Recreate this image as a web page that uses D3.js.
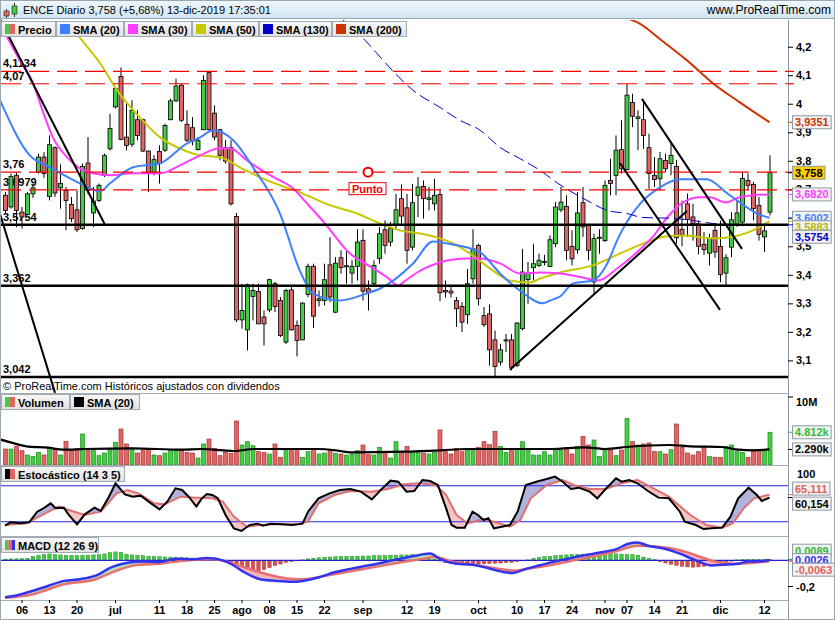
<!DOCTYPE html>
<html>
<head>
<meta charset="utf-8">
<script src="https://cdn.jsdelivr.net/npm/d3@7"></script>
<style>
  body { margin: 0; background: #fff; }
  svg text { font-family: "Liberation Sans", Arial, sans-serif; }
</style>
</head>
<body>
<div id="chart"></div>
<script>
// ---------- data (day = trading-day index, 0 = 3 jun 2019) ----------
const opens = [3.679,3.638,3.749,3.620,3.612,3.684,3.760,3.813,3.675,3.846,
3.705,3.696,3.647,3.628,3.562,3.792,3.617,3.661,3.749,3.842,
3.989,4.096,3.883,3.858,3.944,3.944,3.834,3.760,3.833,3.837,
3.944,4.010,4.065,3.928,3.916,3.839,3.909,4.109,3.967,3.909,
3.846,3.846,3.605,3.242,3.207,3.324,3.342,3.252,3.277,3.369,
3.310,3.164,3.347,3.222,3.172,3.331,3.430,3.310,3.310,3.435,
3.269,3.460,3.428,3.406,3.430,3.521,3.351,3.369,3.457,3.558,
3.515,3.573,3.667,3.635,3.497,3.679,3.710,3.664,3.649,3.682,
3.345,3.343,3.310,3.289,3.260,3.386,3.503,3.257,3.263,3.172,
3.094,3.168,3.172,3.082,3.211,3.383,3.425,3.433,3.443,3.429,
3.509,3.628,3.640,3.500,3.488,3.653,3.573,3.375,3.528,3.520,
3.731,3.749,3.839,3.769,4.004,3.948,3.944,3.846,3.749,3.737,
3.801,3.790,3.780,3.560,3.649,3.603,3.579,3.507,3.476,3.556,
3.500,3.406,3.497,3.574,3.585,3.731,3.717,3.644,3.533,3.620];
const highs = [3.690,3.755,3.757,3.638,3.690,3.720,3.825,3.830,3.889,3.850,
3.787,3.708,3.673,3.696,3.790,3.883,3.708,3.720,3.825,3.965,
4.059,4.127,4.006,4.012,3.977,3.948,3.836,3.819,3.854,3.930,
4.018,4.088,4.071,3.977,3.953,3.883,4.100,4.111,3.994,3.912,
3.872,3.872,3.617,3.369,3.369,3.369,3.369,3.275,3.386,3.375,
3.322,3.351,3.357,3.240,3.304,3.439,3.439,3.345,3.439,3.532,
3.462,3.486,3.486,3.451,3.560,3.560,3.380,3.451,3.567,3.591,
3.585,3.684,3.717,3.684,3.719,3.743,3.731,3.708,3.737,3.702,
3.380,3.360,3.322,3.304,3.421,3.560,3.509,3.287,3.296,3.205,
3.158,3.193,3.193,3.234,3.491,3.445,3.509,3.474,3.470,3.538,
3.655,3.708,3.679,3.556,3.690,3.708,3.579,3.544,3.560,3.731,
3.807,3.889,3.942,4.070,4.035,3.977,4.012,3.895,3.813,3.831,
3.825,3.860,3.802,3.660,3.685,3.649,3.590,3.550,3.544,3.579,
3.590,3.472,3.620,3.661,3.761,3.755,3.726,3.673,3.573,3.819];
const lows = [3.614,3.632,3.567,3.562,3.608,3.670,3.755,3.740,3.661,3.673,
3.632,3.556,3.585,3.550,3.558,3.684,3.567,3.655,3.743,3.836,
3.983,3.872,3.836,3.848,3.872,3.831,3.690,3.749,3.720,3.831,
3.942,4.006,3.936,3.866,3.854,3.836,3.907,3.907,3.872,3.801,
3.790,3.643,3.234,3.211,3.135,3.240,3.228,3.152,3.269,3.269,
3.182,3.158,3.205,3.114,3.170,3.322,3.214,3.289,3.293,3.304,
3.266,3.404,3.369,3.369,3.380,3.310,3.275,3.363,3.439,3.474,
3.500,3.562,3.573,3.439,3.486,3.602,3.597,3.626,3.626,3.308,
3.320,3.320,3.217,3.199,3.228,3.369,3.293,3.217,3.082,3.041,
3.082,3.129,3.065,3.076,3.205,3.298,3.380,3.427,3.433,3.427,
3.497,3.620,3.451,3.433,3.474,3.533,3.451,3.333,3.474,3.515,
3.679,3.679,3.755,3.766,3.918,3.837,3.842,3.702,3.708,3.696,
3.760,3.749,3.509,3.500,3.533,3.520,3.472,3.470,3.433,3.460,
3.374,3.363,3.462,3.568,3.573,3.696,3.591,3.520,3.480,3.608];
const closes = [3.626,3.745,3.626,3.603,3.684,3.705,3.813,3.755,3.856,3.687,
3.720,3.661,3.597,3.558,3.780,3.696,3.659,3.714,3.818,3.913,
4.053,3.875,3.854,3.977,3.889,3.834,3.757,3.804,3.790,3.924,
4.010,4.062,3.942,3.872,3.869,3.872,4.082,3.909,3.883,3.819,
3.799,3.649,3.242,3.275,3.365,3.345,3.228,3.228,3.383,3.289,
3.187,3.345,3.207,3.170,3.301,3.430,3.255,3.316,3.383,3.322,
3.441,3.425,3.432,3.430,3.515,3.343,3.339,3.433,3.544,3.503,
3.562,3.628,3.606,3.486,3.653,3.708,3.667,3.670,3.679,3.337,
3.340,3.336,3.281,3.234,3.369,3.491,3.316,3.225,3.137,3.079,
3.137,3.172,3.076,3.231,3.410,3.406,3.439,3.451,3.447,3.523,
3.638,3.655,3.486,3.456,3.617,3.568,3.486,3.527,3.532,3.714,
3.720,3.837,3.772,4.030,3.956,3.954,3.889,3.755,3.734,3.807,
3.772,3.819,3.530,3.540,3.594,3.579,3.500,3.488,3.527,3.480,
3.401,3.460,3.593,3.617,3.738,3.714,3.632,3.542,3.554,3.758];

// volume, millions of shares
const volumes = [2.35,2.35,2.70,2.11,1.47,1.27,1.86,1.47,2.45,2.35,
1.47,3.48,2.11,2.45,4.56,2.11,2.11,1.37,1.76,2.21,
3.33,5.29,3.09,2.35,1.76,2.11,2.45,1.47,1.37,1.76,
2.11,2.21,2.21,1.86,1.76,1.03,3.09,3.82,2.45,1.37,
1.86,1.72,6.47,2.94,3.43,2.84,1.96,1.86,1.62,3.09,
1.13,2.21,2.11,2.11,1.13,1.96,2.45,1.62,1.76,2.11,
1.72,1.62,1.47,1.62,2.11,2.94,1.52,1.47,2.60,1.86,
1.03,3.43,1.96,2.70,1.96,1.86,1.76,1.62,1.86,5.15,
1.96,1.62,2.45,1.96,2.21,2.25,2.60,3.43,2.99,4.95,
2.75,1.86,2.11,2.25,3.43,2.21,1.47,1.47,1.96,1.47,
2.11,2.21,2.45,1.62,2.75,4.22,2.94,3.68,1.27,2.21,
2.21,1.37,2.21,6.86,3.43,2.94,3.09,3.24,1.96,1.96,
1.62,2.25,6.03,2.60,1.76,1.47,1.96,2.75,1.23,1.13,
1.13,2.75,2.94,1.96,1.86,1.13,2.25,2.25,2.21,4.812];
const volSma20 = [[-0.9,3.75],[1,3.33],[3.9,2.75],[7.8,2.55],[10.7,2.25],[14.5,2.35],[23.2,2.45],[31.9,2.25],[35.8,2.35],[39.6,2.16],[41.6,2.06],[45.4,2.35],[57,2.35],[60.9,2.06],[62.8,1.86],[72.5,1.96],[79.2,2.16],[84.1,2.35],[99.5,2.35],[105.3,2.6],[109.2,2.35],[113,2.65],[120.8,2.94],[124.6,2.75],[130.4,2.65],[133.3,2.25],[136.2,2.16],[139,2.29]];

// moving averages [day, price]
const sma20 = [[-0.9,4.012],[4.5,3.819],[8.2,3.777],[13.6,3.721],[17.3,3.693],[19.1,3.721],[23.3,3.777],[28.2,3.791],[33.1,3.861],[35.5,3.882],[37.8,3.907],[41.5,3.872],[45.1,3.777],[50,3.615],[53.6,3.415],[56,3.335],[60.9,3.31],[65.8,3.335],[68.2,3.352],[74.2,3.44],[77.8,3.517],[80.4,3.51],[84,3.496],[86.4,3.479],[90,3.405],[93.6,3.345],[97.8,3.3],[99.1,3.31],[100.9,3.324],[103.3,3.37],[106.9,3.38],[109.5,3.44],[111.3,3.521],[112.2,3.556],[115.5,3.65],[119.1,3.707],[122.7,3.735],[127.6,3.735],[131.3,3.686],[133.6,3.654],[136.7,3.615],[139,3.6002]];
const sma30 = [[-0.9,4.28],[2.7,4.152],[5.1,4.072],[7,3.966],[8.7,3.882],[11.3,3.812],[13.6,3.773],[16,3.756],[19.1,3.749],[23.3,3.756],[28.2,3.756],[31.8,3.784],[35.5,3.819],[39,3.844],[40.9,3.844],[44,3.801],[47.6,3.756],[50,3.731],[52.4,3.703],[54.4,3.661],[58,3.584],[62.7,3.475],[65.8,3.436],[69.5,3.391],[71.5,3.363],[72.8,3.38],[75.5,3.415],[78.5,3.44],[80.4,3.45],[84,3.457],[86.4,3.457],[90,3.44],[93.6,3.405],[97.3,3.408],[100.9,3.405],[105,3.391],[107.8,3.38],[111.3,3.422],[114.9,3.479],[118,3.538],[120.4,3.601],[123.3,3.654],[126.4,3.672],[128.2,3.672],[131,3.654],[133.6,3.672],[136,3.679],[139,3.682]];
const sma50 = [[11.8,4.275],[14,4.222],[17.3,4.142],[20.4,4.047],[24.5,3.952],[28.2,3.882],[31.8,3.843],[35.5,3.819],[39.1,3.812],[42.7,3.777],[46.4,3.742],[50,3.714],[53.6,3.689],[59.1,3.644],[64,3.615],[68.2,3.58],[71.8,3.556],[75.5,3.545],[79.1,3.528],[81.5,3.51],[85,3.468],[88.7,3.415],[91.8,3.38],[95.5,3.373],[97.3,3.387],[100.9,3.408],[106.9,3.433],[113.1,3.486],[120.4,3.535],[123.3,3.538],[128.7,3.528],[131.3,3.531],[136,3.556],[139,3.5883]];
const sma130 = [[60.9,4.303],[65.5,4.222],[67.6,4.177],[70.9,4.107],[74.2,4.047],[79.1,3.987],[82.7,3.942],[86.4,3.907],[90,3.847],[93.6,3.808],[97.3,3.766],[100.5,3.721],[105.8,3.661],[109.5,3.626],[113.1,3.615],[116,3.601],[121.5,3.598],[125,3.591],[128.7,3.58],[131.3,3.577],[136,3.573],[139,3.5754]];
const sma200 = [[113.6,4.296],[114.9,4.286],[119.4,4.222],[124,4.152],[128.7,4.072],[133.6,4.005],[139,3.9351]];

// drawn levels and trend lines
const dashedLevels = [4.1134, 4.07, 3.76, 3.6979];
const dashedLabels = ["4,1134", "4,07", "3,76", "3,6979"];
const solidLevels = [3.5754, 3.362, 3.042];
const solidLabels = ["3,5754", "3,362", "3,042"];
const trendLines = [
  [[-1, 4.30], [18.2, 3.575]],
  [[-0.9, 3.613], [9.1, 2.986]],
  [[91.8, 3.067], [124.0, 3.624]],
  [[111.8, 3.792], [130.0, 3.277]],
  [[115.8, 4.017], [134.0, 3.491]]
];
const pointMark = [66, 3.76];

// stochastic (14 3 5): %K and %D [day, value]
const stochK = [[0,13.4],[1,18.9],[2.9,17.3],[4.4,18.9],[5.85,36.7],[6.8,41.2],[8.3,50.6],[9.2,42.3],[10.7,43.4],[11.6,31.2],[13.1,15.6],[14.5,32.3],[16.3,43.4],[17.4,37.8],[18.9,61.7],[20.1,83.9],[21.8,65.6],[23.2,61.7],[24.7,63.4],[26.1,53.4],[28.1,40.6],[29.5,53.4],[31,75.6],[32.2,72.8],[33.4,61.7],[34.8,45.1],[35.8,59],[36.7,66.2],[37.7,64.5],[38.7,59],[40.1,31.2],[41.6,8.9],[43,4.5],[44.5,14.5],[45.9,16.7],[46.9,13.4],[48.3,16.7],[50.3,15.6],[52.2,14.5],[54.1,16.7],[55.1,36.7],[57,59],[59,67.3],[60.9,72.8],[62.8,74.5],[64.7,70.1],[66.7,57.3],[68.6,75.6],[70.1,88.4],[71.5,86.7],[73,70.1],[74.4,71.2],[75.9,89.5],[77.3,87.8],[78.7,81.2],[80.2,42.3],[81.2,14.5],[82.1,10.1],[83.6,10.1],[85,36.7],[86,31.2],[87,22.8],[87.9,25.6],[88.9,8.9],[90.3,11.7],[91.8,14.5],[93.2,36.7],[94.7,81.2],[96.6,86.7],[98.5,91.2],[100,95.1],[101.4,86.7],[102.9,74.5],[104.3,76.7],[106.3,70.1],[107.7,59],[109.2,74.5],[111.1,92.3],[112.1,86.7],[113.5,89.5],[115,84],[116.9,71.2],[118.8,60.1],[120.7,59],[122.7,36.7],[123.6,20.1],[125.6,14.5],[127,7.8],[128.5,8.9],[130.4,10.1],[131.9,28.4],[133.3,59],[135.2,76.7],[136.7,64.5],[137.6,54.5],[139,60.154]];
const stochD = [[0,14.5],[3.9,17.3],[6.8,31.2],[9.7,45.1],[11.6,39.5],[14.5,31.2],[17.4,36.7],[20.3,67.3],[22.3,72.8],[24.2,67.3],[27.1,50.6],[29,48.9],[31.9,61.7],[34.8,60.1],[37.7,59],[39.6,53.4],[41.6,28.4],[44,11.7],[46.4,14.5],[49.3,15.6],[53.2,15.6],[55.1,20.1],[57,50.6],[59.9,64.5],[62.8,71.2],[66.7,70.1],[69.6,74.5],[72.5,82.3],[75.4,83.9],[78.3,81.2],[80.2,64.5],[82.1,31.2],[84.1,17.3],[87,24.5],[89.9,17.3],[91.8,11.7],[93.7,22.8],[95.6,59],[98.5,81.2],[101.4,89.5],[103.4,81.2],[106.3,74.5],[109.2,74.5],[112.1,84],[115,89.5],[117.9,75.6],[120.7,61.7],[124.6,31.2],[127.5,14.5],[130.4,10.1],[132.3,17.3],[134.3,42.3],[136.2,59],[139,65.111]];

// MACD (12 26 9)
const macdLine = [[0,-0.282],[2,-0.269],[4.9,-0.235],[7.8,-0.196],[10.7,-0.157],[13.6,-0.144],[16.5,-0.117],[19.4,-0.052],[22.3,-0.018],[25.2,-0.008],[28.1,-0.013],[31,0.013],[33.9,0.008],[36.7,0.018],[39.6,0],[41.6,-0.039],[43.5,-0.091],[46.4,-0.144],[49.3,-0.157],[52.2,-0.164],[54.1,-0.157],[57,-0.131],[59.9,-0.091],[62.8,-0.065],[66.7,-0.034],[70.5,0],[74.4,0.034],[77.3,0.052],[79.2,0.008],[82.1,-0.026],[85,-0.034],[87.9,-0.06],[90.8,-0.091],[92.3,-0.096],[94.7,-0.065],[96.6,-0.044],[99.5,-0.013],[102.4,0.013],[105.3,0.039],[108.2,0.06],[111.1,0.086],[113.5,0.13],[115,0.138],[116.9,0.112],[119.8,0.091],[122.7,0.052],[125.6,0],[128.5,-0.039],[130.4,-0.034],[133.3,-0.026],[135.2,-0.008],[137.2,-0.008],[139,0.0026]];
const macdSignal = [[0,-0.287],[4.9,-0.261],[10.7,-0.183],[16.5,-0.144],[20.3,-0.078],[24.2,-0.034],[28.1,-0.026],[32.9,0],[37.7,0.008],[40.6,-0.013],[43.5,-0.052],[47.4,-0.104],[51.2,-0.138],[54.1,-0.144],[59,-0.112],[64.7,-0.07],[70.5,-0.026],[75.4,0.008],[78.3,0.026],[81.2,-0.008],[86,-0.039],[89.9,-0.065],[92.7,-0.078],[95.6,-0.06],[99.5,-0.034],[103.4,0],[107.2,0.034],[111.1,0.07],[115,0.112],[118.8,0.104],[122.7,0.078],[126.5,0.026],[129.4,-0.013],[132.3,-0.026],[136.2,-0.018],[139,-0.0063]];
const macdHist = [0.010,0.011,0.012,0.013,0.015,0.030,0.038,0.045,0.050,
0.045,0.042,0.040,0.038,0.036,0.038,0.040,0.042,0.045,0.050,
0.060,0.065,0.062,
0.048,0.042,0.040,0.036,0.032,0.030,0.028,
0.026,0.025,0.024,0.022,0.020,0.018,0.015,0.012,0.010,0.006,0.003,
-0.008,-0.015,
-0.040,-0.055,-0.065,-0.075,-0.078,-0.070,
-0.055,-0.040,-0.028,
-0.015,-0.008,-0.002,0.004,
0.012,0.016,0.020,0.024,0.026,0.028,0.030,0.030,0.032,0.032,0.034,
0.034,0.036,0.036,0.038,0.040,0.040,0.042,0.042,0.044,0.040,0.036,
0.025,0.010,-0.005,
-0.018,-0.024,-0.030,-0.034,-0.032,-0.030,-0.028,
-0.026,-0.024,-0.022,-0.020,-0.018,-0.015,-0.010,
-0.004,0.004,
0.015,0.022,0.028,0.032,
0.036,0.040,0.042,0.044,0.046,0.048,0.048,0.050,0.050,0.052,0.052,0.050,0.048,0.046,0.044,0.040,
0.025,0.015,0.006,
-0.010,-0.020,-0.030,-0.038,-0.045,-0.050,-0.052,-0.050,-0.045,-0.040,
-0.030,-0.022,-0.014,-0.006,
0.004,0.006,0.008,0.008,0.006,0.007,0.009];

// axes
const tickLabels = ["06","13","20","jul","11","18","25","ago","08","15","22","sep","12","19","oct","10","17","24","nov","07","14","21","dic","12"];
const tickDays = [3,8,13,20,28,33,38,43,48,53,58,65,73,78,86,93,98,103,109,113,118,123,130,138];
const priceTicks = [3.1,3.2,3.3,3.4,3.5,3.6,3.7,3.8,3.9,4.0,4.1,4.2];
const hiddenTickLabels = [3.6]; // fully covered by the value boxes in the original

// ---------- layout ----------
const W = 835, H = 620;
const left = 1, right = 788;
const P = { top: 20, bottom: 393 }, V = { top: 393, bottom: 465 }, S = { top: 465, bottom: 536 }, M = { top: 536, bottom: 600 };

const GREEN = "#44cc44", RED = "#e06666";

const x = d3.scaleLinear().domain([0, 139]).range([5, 769.5]);
const yP = d3.scaleLinear().domain([3.0, 4.2]).range([388.9, 46.7]);
const yV = d3.scaleLinear().domain([0, 10]).range([465, 397]);
const yS = d3.scaleLinear().domain([0, 100]).range([533.7, 473.7]);
const yM = d3.scaleLinear().domain([-0.2, 0]).range([586.5, 560.4]);

const svg = d3.select("#chart").append("svg")
  .attr("width", W).attr("height", H).style("display", "block");
const defs = svg.append("defs");

svg.append("rect").attr("width", W).attr("height", H).attr("fill", "#fff");

const tg = defs.append("linearGradient").attr("id", "titleGrad").attr("x1", 0).attr("y1", 0).attr("x2", 0).attr("y2", 1);
tg.append("stop").attr("offset", "0%").attr("stop-color", "#eff7fc");
tg.append("stop").attr("offset", "100%").attr("stop-color", "#d0e5f2");
const lgGrad = defs.append("linearGradient").attr("id", "legGrad").attr("x1", 0).attr("y1", 0).attr("x2", 0).attr("y2", 1);
lgGrad.append("stop").attr("offset", "0%").attr("stop-color", "#f8f8f8");
lgGrad.append("stop").attr("offset", "100%").attr("stop-color", "#e0e0e0");

function clip(id, pan) {
  defs.append("clipPath").attr("id", id).append("rect")
    .attr("x", left).attr("y", pan.top).attr("width", right - left).attr("height", pan.bottom - pan.top);
}
clip("cP", P); clip("cV", V); clip("cS", S); clip("cM", M);

// ---------- price panel ----------
const gp = svg.append("g").attr("clip-path", "url(#cP)");

// level labels on the left (under the candles)
gp.selectAll("text.dl").data(dashedLevels).join("text")
  .attr("x", 3).attr("y", d => yP(d) - 4)
  .attr("font-size", 11).attr("font-weight", "bold").attr("fill", "#000")
  .text((d, k) => dashedLabels[k]);
gp.selectAll("text.sl").data(solidLevels).join("text")
  .attr("x", 3).attr("y", d => yP(d) - 4)
  .attr("font-size", 11).attr("font-weight", "bold").attr("fill", "#000")
  .text((d, k) => solidLabels[k]);

// candles
const candles = gp.append("g").selectAll("g").data(opens.map((o, i) => ({ i, o, h: highs[i], l: lows[i], c: closes[i] })))
  .join("g");
candles.append("line")
  .attr("x1", d => x(d.i) + 0.5).attr("x2", d => x(d.i) + 0.5)
  .attr("y1", d => yP(d.h)).attr("y2", d => yP(d.l))
  .attr("stroke", "#000").attr("stroke-width", 1);
candles.append("rect")
  .attr("x", d => x(d.i) - 1.5).attr("width", 4)
  .attr("y", d => yP(Math.max(d.o, d.c)))
  .attr("height", d => Math.max(1, Math.abs(yP(d.o) - yP(d.c))))
  .attr("fill", d => d.c >= d.o ? GREEN : RED)
  .attr("stroke", "#000").attr("stroke-width", 0.8);

// moving averages
const lineP = d3.line().x(d => x(d[0])).y(d => yP(d[1])).curve(d3.curveMonotoneX);
const smas = [
  { data: sma50, color: "#c8c800", w: 2 },
  { data: sma30, color: "#ff3cff", w: 2 },
  { data: sma20, color: "#3f7fff", w: 2 },
  { data: sma130, color: "#0000cc", w: 1, dash: "11,5" },
  { data: sma200, color: "#cc3300", w: 2 }
];
smas.forEach(s => {
  gp.append("path").attr("d", lineP(s.data)).attr("fill", "none")
    .attr("stroke", s.color).attr("stroke-width", s.w)
    .attr("stroke-dasharray", s.dash || null);
});

// horizontal levels
gp.selectAll("line.dash").data(dashedLevels).join("line")
  .attr("x1", left).attr("x2", right).attr("y1", d => yP(d)).attr("y2", d => yP(d))
  .attr("stroke", "#ff0000").attr("stroke-width", 1.2).attr("stroke-dasharray", "20,8");
gp.selectAll("line.solid").data(solidLevels).join("line")
  .attr("x1", left).attr("x2", right).attr("y1", d => yP(d)).attr("y2", d => yP(d))
  .attr("stroke", "#000").attr("stroke-width", 2.5);

// trend lines
gp.selectAll("line.trend").data(trendLines).join("line")
  .attr("x1", d => x(d[0][0])).attr("y1", d => yP(d[0][1]))
  .attr("x2", d => x(d[1][0])).attr("y2", d => yP(d[1][1]))
  .attr("stroke", "#000").attr("stroke-width", 2);

// "Punto" marker
gp.append("circle").attr("cx", x(pointMark[0])).attr("cy", yP(pointMark[1])).attr("r", 4.5)
  .attr("fill", "#fff").attr("stroke", "#ee0000").attr("stroke-width", 2);
gp.append("rect").attr("x", x(pointMark[0]) - 19).attr("y", yP(pointMark[1]) + 10.5).attr("width", 37).attr("height", 12)
  .attr("fill", "#fff").attr("stroke", "#ee0000").attr("stroke-width", 1);
gp.append("text").attr("x", x(pointMark[0]) - 0.5).attr("y", yP(pointMark[1]) + 20.5)
  .attr("text-anchor", "middle").attr("font-size", 11).attr("font-weight", "bold").attr("fill", "#ee0000").text("Punto");

gp.append("text").attr("x", 3).attr("y", 390).attr("font-size", 11).attr("fill", "#000")
  .text("© ProRealTime.com  Históricos ajustados con dividendos");

// ---------- volume panel ----------
const gv = svg.append("g").attr("clip-path", "url(#cV)");
gv.selectAll("rect").data(volumes).join("rect")
  .attr("x", (d, i) => x(i) - 1.5).attr("width", 4)
  .attr("y", d => yV(d)).attr("height", d => yV(0) - yV(d))
  .attr("fill", (d, i) => closes[i] >= opens[i] ? GREEN : RED)
  .attr("stroke", (d, i) => closes[i] >= opens[i] ? "#1f8f1f" : "#a83232").attr("stroke-width", 0.7);
gv.append("path").attr("d", d3.line().x(d => x(d[0])).y(d => yV(d[1])).curve(d3.curveMonotoneX)(volSma20))
  .attr("fill", "none").attr("stroke", "#000").attr("stroke-width", 2.2);

// fill between two lines using clip regions
function betweenFill(g, a, b, yScale, pan, curve, colorAUp, colorBUp, id) {
  const below = d3.area().x(d => x(d[0])).y0(pan.bottom).y1(d => yScale(d[1])).curve(curve);
  const above = d3.area().x(d => x(d[0])).y0(pan.top).y1(d => yScale(d[1])).curve(curve);
  defs.append("clipPath").attr("id", id + "a").append("path").attr("d", above(b));
  defs.append("clipPath").attr("id", id + "b").append("path").attr("d", above(a));
  g.append("path").attr("d", below(a)).attr("fill", colorAUp).attr("clip-path", `url(#${id}a)`);
  g.append("path").attr("d", below(b)).attr("fill", colorBUp).attr("clip-path", `url(#${id}b)`);
}

// ---------- stochastic panel ----------
const gs = svg.append("g").attr("clip-path", "url(#cS)");
const gsf = gs.append("g");
betweenFill(gsf, stochK, stochD, yS, S, d3.curveLinear, "#b0b4dc", "#f6c6c6", "stf");
gs.selectAll("line.lv").data([80, 20]).join("line")
  .attr("x1", left).attr("x2", right).attr("y1", d => yS(d)).attr("y2", d => yS(d))
  .attr("stroke", "#2222ee").attr("stroke-width", 1.1);
gs.append("path").attr("d", d3.line().x(d => x(d[0])).y(d => yS(d[1]))(stochD))
  .attr("fill", "none").attr("stroke", "#e07070").attr("stroke-width", 2);
gs.append("path").attr("d", d3.line().x(d => x(d[0])).y(d => yS(d[1]))(stochK))
  .attr("fill", "none").attr("stroke", "#000").attr("stroke-width", 2);

// ---------- MACD panel ----------
const gm = svg.append("g").attr("clip-path", "url(#cM)");
gm.selectAll("rect").data(macdHist).join("rect")
  .attr("x", (d, i) => x(i) - 1.2).attr("width", 3.4)
  .attr("y", d => Math.min(yM(0), yM(d))).attr("height", d => Math.max(0.5, Math.abs(yM(d) - yM(0))))
  .attr("fill", d => d >= 0 ? GREEN : "#d85050")
  .attr("stroke", d => d >= 0 ? "#1f8f1f" : "#a83232").attr("stroke-width", 0.5);
betweenFill(gm, macdLine, macdSignal, yM, M, d3.curveMonotoneX, "#b4e6b4", "#f2b4b4", "mcf");
gm.append("line").attr("x1", left).attr("x2", right).attr("y1", yM(0)).attr("y2", yM(0))
  .attr("stroke", "#2222cc").attr("stroke-width", 1.3);
gm.append("path").attr("d", d3.line().x(d => x(d[0])).y(d => yM(d[1])).curve(d3.curveMonotoneX)(macdSignal))
  .attr("fill", "none").attr("stroke", "#e87070").attr("stroke-width", 2.5);
gm.append("path").attr("d", d3.line().x(d => x(d[0])).y(d => yM(d[1])).curve(d3.curveMonotoneX)(macdLine))
  .attr("fill", "none").attr("stroke", "#3333ee").attr("stroke-width", 2.5);

// ---------- frames ----------
[V.top, S.top, M.top, M.bottom].forEach(yy => {
  svg.append("line").attr("x1", 0).attr("x2", right).attr("y1", yy + 0.5).attr("y2", yy + 0.5)
    .attr("stroke", "#a3adb6").attr("stroke-width", 1);
});
svg.append("line").attr("x1", right + 0.5).attr("x2", right + 0.5).attr("y1", P.top).attr("y2", H)
  .attr("stroke", "#8d99a4").attr("stroke-width", 1);
svg.append("rect").attr("x", 0.5).attr("y", 0.5).attr("width", W - 1).attr("height", H - 1)
  .attr("fill", "none").attr("stroke", "#9aa6b0");

// ---------- title bar ----------
svg.append("rect").attr("x", 0.5).attr("y", 0.5).attr("width", W - 1).attr("height", 18)
  .attr("fill", "url(#titleGrad)").attr("stroke", "#9aa6b0");
// little candle icon
svg.append("line").attr("x1", 6.5).attr("x2", 6.5).attr("y1", 9).attr("y2", 18).attr("stroke", "#333");
svg.append("rect").attr("x", 4).attr("y", 11).attr("width", 5).attr("height", 5).attr("fill", RED).attr("stroke", "#333").attr("stroke-width", 0.7);
svg.append("line").attr("x1", 14.5).attr("x2", 14.5).attr("y1", 3).attr("y2", 17).attr("stroke", "#333");
svg.append("rect").attr("x", 12).attr("y", 6).attr("width", 5).attr("height", 8).attr("fill", GREEN).attr("stroke", "#333").attr("stroke-width", 0.7);
svg.append("text").attr("x", 23).attr("y", 14).attr("font-size", 11).attr("fill", "#000")
  .text("ENCE Diario 3,758 (+5,68%) 13-dic-2019 17:35:01");
svg.append("text").attr("x", 831).attr("y", 14).attr("text-anchor", "end").attr("font-size", 12).attr("fill", "#000")
  .text("www.ProRealTime.com");

// ---------- legends ----------
function legend(items, y) {
  items.forEach(it => {
    const g = svg.append("g");
    g.append("rect").attr("x", it.x + 0.5).attr("y", y + 0.5).attr("width", it.w).attr("height", 15)
      .attr("fill", "url(#legGrad)").attr("stroke", "#a2abb3");
    it.sw.forEach((c, k) => {
      const sw = 10 / it.sw.length;
      g.append("rect").attr("x", it.x + 4 + k * sw).attr("y", y + 3).attr("width", sw).attr("height", 10).attr("fill", c);
    });
    g.append("text").attr("x", it.x + 17).attr("y", y + 12.5).attr("font-size", 11).attr("font-weight", "bold")
      .attr("fill", "#000").text(it.t);
  });
}
legend([
  { x: 1, w: 54, t: "Precio", sw: [GREEN, RED] },
  { x: 56, w: 67, t: "SMA (20)", sw: ["#3f7fff"] },
  { x: 124, w: 67, t: "SMA (30)", sw: ["#ff3cff"] },
  { x: 192, w: 66, t: "SMA (50)", sw: ["#c8c800"] },
  { x: 259, w: 72, t: "SMA (130)", sw: ["#0000cc"] },
  { x: 332, w: 74, t: "SMA (200)", sw: ["#cc3300"] }
], 21);
legend([
  { x: 1, w: 68, t: "Volumen", sw: [GREEN, RED] },
  { x: 70, w: 69, t: "SMA (20)", sw: ["#000"] }
], 394);
legend([{ x: 1, w: 123, t: "Estocástico (14 3 5)", sw: ["#000", RED] }], 466);
legend([{ x: 1, w: 97, t: "MACD (12 26 9)", sw: [GREEN, RED, "#3333ee"] }], 537);

// ---------- right axes ----------
const fmtP = d => hiddenTickLabels.includes(d) ? "" :
  (Math.abs(d - Math.round(d)) < 1e-9 ? String(Math.round(d)) : d.toFixed(1).replace(".", ","));
const axP = svg.append("g").attr("transform", `translate(${right},0)`)
  .call(d3.axisRight(yP).tickValues(priceTicks).tickSize(5).tickPadding(3).tickFormat(fmtP));
axP.select(".domain").remove();
axP.selectAll("text").attr("font-size", 11).attr("font-weight", "bold").attr("font-family", "Liberation Sans, Arial, sans-serif");

// red stubs of dashed levels on the axis
svg.selectAll("line.stub").data(dashedLevels).join("line")
  .attr("x1", right).attr("x2", right + 6).attr("y1", d => yP(d)).attr("y2", d => yP(d))
  .attr("stroke", "#ff0000").attr("stroke-width", 1.2);

function valueBox(v, yy, text, color, bg) {
  const g = svg.append("g");
  const t = g.append("text").attr("x", right + 7).attr("y", yy + 4).attr("font-size", 11).attr("font-weight", "bold")
    .attr("fill", color).text(text);
  const w = t.node().getComputedTextLength();
  g.insert("rect", "text").attr("x", right + 4.5).attr("y", yy - 6.5).attr("width", w + 5).attr("height", 13)
    .attr("fill", bg || "#f2f2f2").attr("stroke", "#8f9ba6");
  g.insert("line", "rect").attr("x1", right).attr("x2", right + 5).attr("y1", v).attr("y2", v).attr("stroke", color);
}
function pushDown(items, gap) {
  items.sort((a, b) => a.y - b.y);
  for (let k = 1; k < items.length; k++) if (items[k].y < items[k - 1].y + gap) items[k].y = items[k - 1].y + gap;
  return items;
}
function spread(items, gap) {
  const orig = items.map(d => d.y);
  pushDown(items, gap);
  const shift = d3.mean(items, d => d.y) - d3.mean(orig);
  items.forEach(d => d.y -= shift);
  return items;
}

// price value boxes
const priceBoxes = pushDown([
  { v: 3.9351, t: "3,9351", c: "#cc3300" },
  { v: 3.758, t: "3,758", c: "#000", bg: "#ffcc00" },
  { v: 3.682, t: "3,6820", c: "#ff3cff" },
  { v: 3.6002, t: "3,6002", c: "#3f7fff" },
  { v: 3.5883, t: "3,5883", c: "#b8b800" },
  { v: 3.5754, t: "3,5754", c: "#0000cc" }
].map(d => ({ ...d, y: yP(d.v) })), 9.5);
priceBoxes.forEach(d => valueBox(yP(d.v), d.y, d.t, d.c, d.bg));

// volume axis
svg.append("line").attr("x1", right).attr("x2", right + 5).attr("y1", yV(10)).attr("y2", yV(10)).attr("stroke", "#000");
svg.append("text").attr("x", right + 8).attr("y", yV(10) + 9).attr("font-size", 11).attr("font-weight", "bold").text("10M");
valueBox(yV(4.812), yV(4.812), "4.812k", "#33bb33");
valueBox(yV(2.29), yV(2.29), "2.290k", "#000");

// stochastic axis
svg.append("text").attr("x", right + 9).attr("y", yS(100) + 4).attr("font-size", 11).attr("font-weight", "bold").text("100");
spread([
  { v: 65.111, t: "65,111", c: "#e06060" },
  { v: 60.154, t: "60,154", c: "#000" }
].map(d => ({ ...d, y: yS(d.v) })), 15).forEach(d => valueBox(yS(d.v), d.y, d.t, d.c));

// MACD axis
svg.append("line").attr("x1", right).attr("x2", right + 5).attr("y1", yM(-0.2)).attr("y2", yM(-0.2)).attr("stroke", "#000");
svg.append("text").attr("x", right + 8).attr("y", yM(-0.2) + 4).attr("font-size", 11).attr("font-weight", "bold").text("-0,2");
spread([
  { v: 0.0089, t: "0,0089", c: "#33bb33" },
  { v: 0.0026, t: "0,0026", c: "#3333ee" },
  { v: -0.0063, t: "-0,0063", c: "#e06060" }
].map(d => ({ ...d, y: yM(d.v) })), 9.5).sort((a, b) => a.y - b.y).forEach(d => valueBox(yM(d.v), d.y, d.t, d.c));

// ---------- date axis ----------
const axX = svg.append("g").attr("transform", `translate(0,${M.bottom})`)
  .call(d3.axisBottom(x).tickValues(tickDays).tickSize(3).tickPadding(3).tickFormat((d, k) => tickLabels[k]));
axX.select(".domain").remove();
axX.selectAll("text").attr("font-size", 11).attr("font-weight", "bold").attr("font-family", "Liberation Sans, Arial, sans-serif");
</script>
</body>
</html>
